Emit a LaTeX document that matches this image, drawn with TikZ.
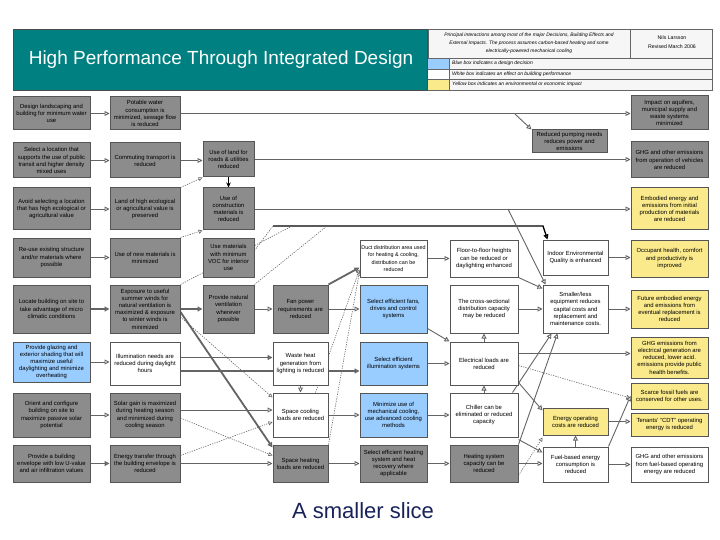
\documentclass[tikz,border=0pt]{standalone}
\usepackage{fontspec}
\setmainfont{Liberation Sans}
\usetikzlibrary{arrows.meta,calc}
\pgfdeclarelayer{bottom}
\pgfdeclarelayer{background}
\pgfsetlayers{bottom,background,main}
\definecolor{boxgray}{RGB}{140,140,140}
\definecolor{boxblue}{RGB}{153,204,255}
\definecolor{boxyellow}{RGB}{250,234,140}
\definecolor{teal1}{RGB}{0,128,128}
\definecolor{edgec}{RGB}{85,85,85}
\definecolor{linec}{RGB}{100,100,100}
\definecolor{slicec}{RGB}{25,35,90}
\tikzset{
 bxbase/.style={draw=edgec, line width=1pt, inner sep=0pt, align=center, font=\fontsize{5.9}{7.2}\selectfont},
 gbox/.style={bxbase, fill=boxgray},
 bbox/.style={bxbase, fill=boxblue},
 wbox/.style={bxbase, fill=white},
 ybox/.style={bxbase, fill=boxyellow},
 con/.style={draw=linec, line width=0.9pt, -{Triangle[fill=white,length=5pt,width=5pt]}},
 tcon/.style={con, line width=1.8pt},
 dcon/.style={draw=linec, line width=0.6pt, dash pattern=on 1.2pt off 1.2pt},
 dcona/.style={dcon, -{Triangle[fill=white,length=4pt,width=4pt]}},
}
\newcommand\mybox[7]{%
 \pgfmathsetmacro\mbw{#4-#2}\pgfmathsetmacro\mbh{#5-#3}%
 \pgfmathsetmacro\mbx{(#2+#4)/2}\pgfmathsetmacro\mby{(#3+#5)/2}%
 \node[#6, minimum width=\mbw pt, minimum height=\mbh pt] (#1) at (\mbx,\mby) {#7};}
\begin{document}
\begin{tikzpicture}[x=1pt,y=-1pt]
\useasboundingbox (0,0) rectangle (720,540);
\begin{pgfonlayer}{bottom}
\fill[white] (0,0) rectangle (720,540);
\end{pgfonlayer}
% title bar
\node[fill=teal1, draw=black!70, line width=0.8pt, minimum width=414pt, minimum height=61pt, inner sep=0] (tbar) at (220.5,59.5) {};
\node[text=white, font=\fontsize{19}{22}\selectfont] (ttl) at (221,60) {High Performance Through Integrated Design};
% header table
\draw[draw=black!60, line width=0.6pt, fill=gray!7] (428,29) rectangle (712,90);
\fill[boxblue] (428.3,58.3) rectangle (449,69);
\fill[white] (428.3,69) rectangle (449,79);
\fill[boxyellow] (428.3,79) rectangle (449,89.7);
\draw[draw=black!60, line width=0.6pt] (428,58) -- (712,58) (428,69) -- (712,69) (428,79) -- (712,79) (630,29) -- (630,58) (449,58) -- (449,90);
\node[font=\fontsize{4.9}{7.8}\selectfont\itshape, align=center] (hdtxt) at (529,43.5) {Principal interactions among most of the major Decisions, Building Effects and\\External Impacts. The process assumes carbon-based heating and some\\electrically-powered mechanical cooling};
\node[font=\fontsize{5.2}{8.5}\selectfont, align=center] (auth) at (672,42) {Nils Larsson\\Revised March 2006};
\node[font=\fontsize{5}{6}\selectfont\itshape, anchor=west, inner sep=0] (lg1) at (452,63.5) {Blue box indicates a design decision};
\node[font=\fontsize{5}{6}\selectfont\itshape, anchor=west, inner sep=0] (lg2) at (452,74) {White box indicates an effect on building performance};
\node[font=\fontsize{5}{6}\selectfont\itshape, anchor=west, inner sep=0] (lg3) at (452,84.5) {Yellow box indicates an environmental or economic impact};
% boxes
\mybox{c1r1}{13}{97}{90}{130}{gbox}{Design landscaping and\\building for minimum water\\use}
\mybox{c2r1}{110}{97}{180}{130}{gbox}{Potable water\\consumption is\\minimized, sewage flow\\is reduced}
\mybox{c8r1}{631}{96}{708}{130}{gbox}{Impact on aquifers,\\municipal supply and\\waste systems\\minimized}
\mybox{pump}{532}{130}{607}{153}{gbox}{Reduced pumping needs\\reduces power and\\emissions}
\mybox{c1r2}{13}{143}{90}{178}{gbox}{Select a location that\\supports the use of public\\transit and higher density\\mixed uses}
\mybox{c2r2}{110}{143}{180}{178}{gbox}{Commuting transport is\\reduced}
\mybox{c3r1}{203}{142}{254}{177}{gbox}{Use of land for\\roads \& utilities\\reduced}
\mybox{c8r2}{631}{142}{708}{178}{gbox}{GHG and other emissions\\from operation of vehicles\\are reduced}
\mybox{c1r3}{13}{188}{90}{230}{gbox}{Avoid selecting a location\\that has high ecological or\\agricultural value}
\mybox{c2r3}{110}{188}{180}{230}{gbox}{Land of high ecological\\or agricultural value is\\preserved}
\mybox{c3r2}{203}{188}{254}{230}{gbox}{Use of\\construction\\materials is\\reduced}
\mybox{c8r3}{631}{188}{708}{230}{ybox}{Embodied energy and\\emissions from initial\\production of materials\\are reduced}
\mybox{c1r4}{13}{238}{90}{277}{gbox}{Re-use existing structure\\and/or materials where\\possible}
\mybox{c2r4}{110}{238}{180}{277}{gbox}{Use of new materials is\\minimized}
\mybox{c3r3}{203}{238}{254}{277}{gbox}{Use materials\\with minimum\\VOC for interior\\use}
\mybox{c5r4}{360}{240}{427}{277}{wbox, font=\fontsize{5.4}{7.2}\selectfont}{Duct distribution area used\\for heating \& cooling,\\distribution can be\\reduced}
\mybox{c6r4}{450}{240}{518}{277}{wbox}{Floor-to-floor heights\\can be reduced or\\daylighting enhanced}
\mybox{c7r4}{543}{240}{608}{275}{wbox}{Indoor Environmental\\Quality is enhanced}
\mybox{c8r4}{631}{240}{708}{277}{ybox}{Occupant health, comfort\\and productivity is\\improved}
\mybox{c1r5}{13}{285}{90}{333}{gbox}{Locate building on site to\\take advantage of micro\\climatic conditions}
\mybox{c2r5}{110}{285}{180}{333}{gbox}{Exposure to useful\\summer winds for\\natural ventilation is\\maximized \& exposure\\to winter winds is\\minimized}
\mybox{c3r4}{203}{285}{254}{333}{gbox}{Provide natural\\ventilation\\wherever\\possible}
\mybox{c4r5}{273}{285}{328}{333}{gbox}{Fan power\\requirements are\\reduced}
\mybox{c5r5}{360}{285}{427}{333}{bbox}{Select efficient fans,\\drives and control\\systems}
\mybox{c6r5}{450}{285}{518}{333}{wbox}{The cross-sectional\\distribution capacity\\may be reduced}
\mybox{c7r5}{543}{285}{608}{333}{wbox}{Smaller/less\\equipment reduces\\capital costs and\\replacement and\\maintenance costs.}
\mybox{c8r5}{631}{290}{708}{328}{ybox}{Future embodied energy\\and emissions from\\eventual replacement is\\reduced}
\mybox{c1r6}{13}{342}{90}{382}{bbox}{Provide glazing and\\exterior shading that will\\maximize useful\\daylighting and minimize\\overheating}
\mybox{c2r6}{110}{342}{180}{385}{wbox}{Illumination needs are\\reduced during daylight\\hours}
\mybox{c4r6}{273}{342}{328}{385}{wbox}{Waste heat\\generation from\\lighting is reduced}
\mybox{c5r6}{360}{342}{427}{385}{bbox}{Select efficient\\illumination systems}
\mybox{c6r6}{450}{342}{518}{385}{wbox}{Electrical loads are\\reduced}
\mybox{c8r6}{631}{337}{708}{378}{ybox}{GHG emissions from\\electrical generation are\\reduced, lower acid.\\emissions provide public\\health benefits.}
\mybox{c1r7}{13}{393}{90}{437}{gbox}{Orient and configure\\building on site to\\maximize passive solar\\potential}
\mybox{c2r7}{110}{393}{180}{437}{gbox}{Solar gain is maximized\\during heating season\\and minimized during\\cooling season}
\mybox{c4r7}{273}{393}{328}{437}{wbox}{Space cooling\\loads are reduced}
\mybox{c5r7}{360}{393}{427}{437}{bbox}{Minimize use of\\mechanical cooling,\\use advanced cooling\\methods}
\mybox{c6r7}{450}{393}{518}{437}{wbox}{Chiller can be\\eliminated or reduced\\capacity}
\mybox{c7r7}{543}{408}{608}{435}{ybox}{Energy operating\\costs are reduced}
\mybox{c8r7a}{631}{383}{708}{409}{ybox}{Scarce fossil fuels are\\conserved for other uses.}
\mybox{c8r7b}{631}{413}{708}{436}{ybox}{Tenants' "CDT" operating\\energy is reduced}
\mybox{c1r8}{13}{445}{90}{482}{gbox}{Provide a building\\envelope with low U-value\\and air infiltration values}
\mybox{c2r8}{110}{445}{180}{482}{gbox}{Energy transfer through\\the building envelope is\\reduced}
\mybox{c4r8}{273}{445}{328}{482}{gbox}{Space heating\\loads are reduced}
\mybox{c5r8}{360}{445}{427}{482}{gbox}{Select efficient heating\\system and heat\\recovery where\\applicable}
\mybox{c6r8}{450}{445}{518}{482}{gbox}{Heating system\\capacity can be\\reduced}
\mybox{c7r8}{543}{447}{608}{482}{wbox}{Fuel-based energy\\consumption is\\reduced}
\mybox{c8r8}{631}{447}{708}{482}{wbox}{GHG and other emissions\\from fuel-based operating\\energy are reduced}
\node[text=slicec, font=\fontsize{22}{26}\selectfont] (slice) at (363,511) {A smaller slice};
% free ends
\coordinate (pb) at (515,114);
\coordinate (pc) at (508,209);
\coordinate (bus1) at (273,226);
\coordinate (bus2) at (543,226);
\coordinate (bus3) at (292,226);
\coordinate (bus4) at (327,226);
\begin{pgfonlayer}{background}
% row 1-3
\draw[con] (c1r1.east) -- (c1r1.east -| c2r1.west);
\draw[con] (c2r1.east) -- (c2r1.east -| c8r1.west);
\draw[con] (pb) -- (pump.north west);
\draw[con] (c1r2.east) -- (c1r2.east -| c2r2.west);
\draw[con] (c2r2.east) -- (c2r2.east -| c3r1.west);
\draw[con] (c3r1.east) -- (c3r1.east -| c8r2.west);
\draw[black, line width=1pt, -{Stealth[length=5pt,width=4.5pt]}] (c3r1) -- (c3r2);
\draw[con] (c1r3.east) -- (c1r3.east -| c2r3.west);
\draw[dcona] (c2r3.north east) -- (c3r1.south west);
\draw[con] (c3r2.east) -- (c3r2.east -| c8r3.west);
\draw[con] (c1r4.east) -- (c1r4.east -| c2r4.west);
\draw[dcona] (c2r4.north east) -- (c3r2.south west);
% IEQ bus
\draw[black, line width=1.4pt, -{Triangle[fill=white,length=5pt,width=5pt]}] (bus1) -- (bus2) -- ([xshift=5pt]c7r4.north west);
\draw[dcon] ([yshift=7pt]c3r3.east) -- (bus1);
\draw[dcon] (c2r5.north east) -- (bus3);
\draw[dcon] (c3r4.north east) -- (bus4);
% row 4-5
\draw[con] (c5r4.east) -- (c5r4.east -| c6r4.west);
\draw[con] (c7r4.east) -- (c7r4.east -| c8r4.west);
\draw[tcon] (c1r5.east) -- (c1r5.east -| c2r5.west);
\draw[tcon] (c2r5.east) -- (c2r5.east -| c3r4.west);
\draw[con] (c3r4.east) -- (c3r4.east -| c4r5.west);
\draw[con] (c4r5.east) -- (c4r5.east -| c5r5.west);
\draw[tcon] (c4r5.north east) -- ([yshift=10pt]c5r4.south west);
\draw[con] (c6r5.east) -- (c6r5.east -| c7r5.west);
\draw[con] (c7r5.east) -- (c7r5.east -| c8r5.west);
\draw[con] (c6r4.south east) -- ([yshift=-4pt]c7r5.north west);
\draw[con] (pc) -- ([xshift=3pt]c7r5.north west);
% row 6
\draw[con] (c1r6.east) -- (c1r6.east -| c2r6.west);
\draw[tcon] ([yshift=6pt]c2r6.east) -- ([yshift=6pt]c2r6.east -| c4r6.west);
\draw[tcon] ([yshift=-7.5pt]c2r6.east) -- ([yshift=-7.5pt]c2r6.east -| c5r6.west);
\draw[con] (c4r6) -- (c4r7);
\draw[con] (c5r6.east) -- (c5r6.east -| c6r6.west);
\draw[con] ([yshift=5pt]c5r5.south east) -- (c6r6.north west);
\draw[con] ([yshift=10pt]c6r6.east) -- ([yshift=10pt]c6r6.east -| c8r6.west);
\draw[con] (c6r6) -- (c6r5);
\draw[con] (c6r7) -- (c6r6);
\draw[dcona] ([yshift=-2pt]c6r6.east) -- ([yshift=-2pt]c8r7a.west);
\draw[con] ([yshift=3pt]c6r6.south east) -- ([yshift=-3pt]c7r7.north west);
% rows 7-8
\draw[con] (c1r7.east) -- (c1r7.east -| c2r7.west);
\draw[tcon] (c1r8.east) -- (c1r8.east -| c2r8.west);
\draw[con] ([yshift=5pt]c2r7.east) -- ([yshift=5pt]c2r7.east -| c4r7.west);
\draw[con] (c2r8.east) -- (c2r8.east -| c4r8.west);
\draw[tcon] ([yshift=-3pt]c2r5.east) -- ([yshift=-3pt]c4r8.north west);
\draw[dcona] ([yshift=-8pt]c2r5.east) -- ([yshift=-5pt]c4r7.north west);
\draw[dcona] ([yshift=-3pt]c2r7.east) -- ([yshift=8pt]c4r8.west);
\draw[dcona] ([yshift=8pt]c2r8.east) -- ([yshift=-7pt]c4r7.west);
\draw[dcona] ([xshift=-13pt]c4r7.north east) -- ([yshift=8pt]c5r4.south west);
\draw[dcona] (c4r8.north east) -- ([yshift=6pt]c5r4.south west);
\draw[con] (c4r7.east) -- (c4r7.east -| c5r7.west);
\draw[con] (c5r7.east) -- (c5r7.east -| c6r7.west);
\draw[con] (c4r8.east) -- (c4r8.east -| c5r8.west);
\draw[con] (c5r8.east) -- (c5r8.east -| c6r8.west);
\draw[con] (c6r8.east) -- (c6r8.east -| c7r8.west);
\draw[con] (c7r8.east) -- (c7r8.east -| c8r8.west);
\draw[con] (c7r8) -- (c7r7);
\draw[con] (c7r7.east) -- (c7r7.east -| c8r7b.west);
\draw[con] (c7r8.north east) -- (c8r7a.west);
\draw[con] ([xshift=-6pt]c6r7.north east) -- ([xshift=9pt]c7r5.south west);
\draw[con] (c6r8.north east) -- ([xshift=15pt]c7r5.south west);
\draw[con] ([yshift=-2pt]c6r7.south east) -- ([yshift=-6pt]c7r8.north west);
\draw[dcona] ([yshift=7pt]c6r8.south east) -- ([yshift=-2pt]c7r7.south west);
\end{pgfonlayer}
\end{tikzpicture}
\end{document}
